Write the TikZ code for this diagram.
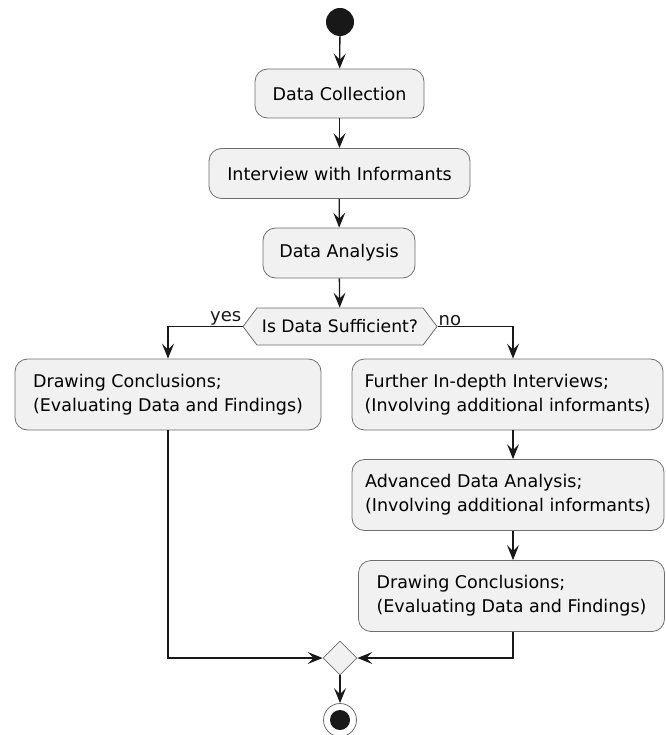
\documentclass[tikz,border=0pt]{standalone}
\usepackage{fontspec}
\setmainfont{DejaVu Sans}
\usetikzlibrary{arrows.meta,shapes.geometric,shapes.symbols}
\definecolor{boxfill}{HTML}{F1F1F1}
\definecolor{boxline}{HTML}{6E6E6E}
\definecolor{ink}{HTML}{181818}
\tikzset{
  act/.style={draw=boxline,fill=boxfill,line width=0.8pt,rounded corners=12.5pt,
    align=left,inner sep=0pt,font=\fontsize{17.5}{24}\selectfont},
  test/.style={draw=boxline,fill=boxfill,line width=0.8pt,signal,
    signal to=east and west,signal pointer angle=106,inner sep=0pt,
    font=\fontsize{17.2}{20}\selectfont},
  lbl/.style={inner sep=1pt,font=\fontsize{18}{20}\selectfont,text=ink},
  flow/.style={draw=ink,line width=1.3pt,-{Stealth[length=15pt,width=12pt,inset=6pt]}}
}
\begin{document}
\begin{tikzpicture}[x=1pt,y=-1pt]
\useasboundingbox (0,0) rectangle (665,735);
% start and main column
\node[circle,fill=ink,inner sep=0pt,minimum size=28pt] (start) at (340,22) {};
\node[act,minimum width=169pt,minimum height=49pt] (dc) at (339.5,93.5) {Data Collection};
\node[act,minimum width=261pt,minimum height=50pt] (iw) at (339.5,173.5) {Interview with Informants};
\node[act,minimum width=152pt,minimum height=50pt] (da) at (339,253) {Data Analysis};
\node[test,minimum width=194pt,minimum height=37pt] (test) at (340,326.5) {Is Data Sufficient?};
\node[lbl,anchor=south east] (yes) at (test.west) {yes};
\node[lbl,anchor=south west] (no) at (test.east) {no};
% yes branch
\node[act,minimum width=306pt,minimum height=71pt] (concl1) at (168,394.5) {Drawing Conclusions;\\(Evaluating Data and Findings)};
% no branch
\coordinate (rx) at (513,0);
\node[act,minimum width=311pt,minimum height=71pt] (fi) at (507.5,394.5) {Further In-depth Interviews;\\(Involving additional informants)};
\node[act,minimum width=312pt,minimum height=71pt] (ada) at (508,495) {Advanced Data Analysis;\\(Involving additional informants)};
\node[act,minimum width=306pt,minimum height=71pt] (concl2) at (511.5,596) {Drawing Conclusions;\\(Evaluating Data and Findings)};
% merge and stop
\node[diamond,draw=boxline,fill=boxfill,line width=0.8pt,inner sep=0pt,minimum size=34pt] (merge) at (340,658) {};
\node[circle,draw=boxline,fill=white,line width=0.8pt,inner sep=0pt,minimum size=33pt] (stop) at (340,720) {};
\fill[ink] (stop.center) circle (10pt);
% connectors
\draw[flow] (start) -- (dc);
\draw[flow] (dc) -- (iw);
\draw[flow] (iw) -- (da);
\draw[flow] (da) -- (test);
\draw[flow] (test.west) -| (concl1.north);
\draw[flow] (test.east) -| (rx |- fi.north);
\draw[flow] (fi.south -| rx) -- (rx |- ada.north);
\draw[flow] (ada.south -| rx) -- (rx |- concl2.north);
\draw[flow] (concl1.south) |- (merge.west);
\draw[flow] (concl2.south -| rx) |- (merge.east);
\draw[flow] (merge) -- (stop);
\end{tikzpicture}
\end{document}
